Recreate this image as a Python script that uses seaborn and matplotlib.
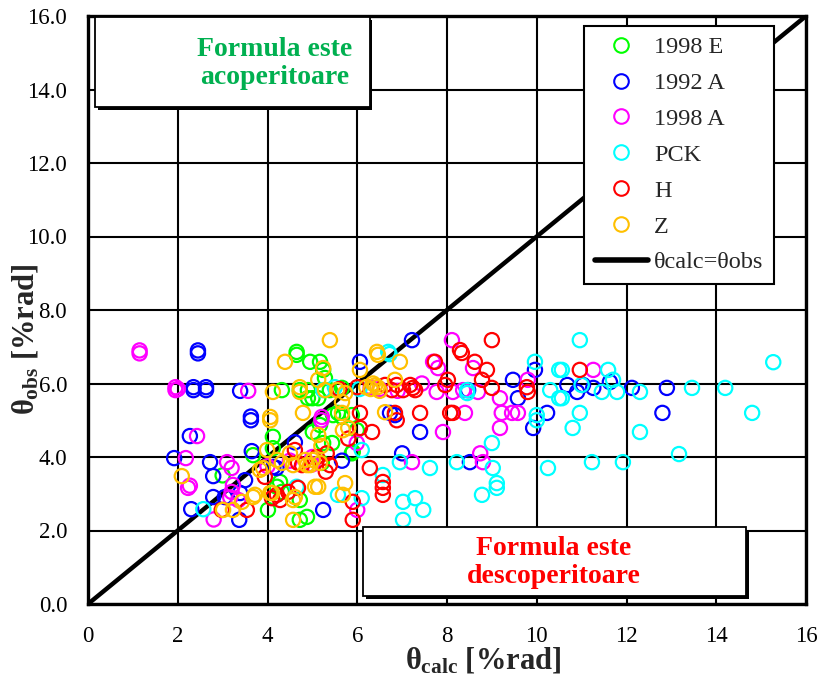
import numpy as np
import pandas as pd
import matplotlib
matplotlib.use("Agg")
import matplotlib.pyplot as plt
import matplotlib.patheffects as pe
from matplotlib.patches import Rectangle
from matplotlib.lines import Line2D
import seaborn as sns

# ---------------- data ----------------
series_names = ["1998 E", "1992 A", "1998 A", "PCK", "H", "Z"]
series_colors = ["#00FF00", "#0000FF", "#FF00FF", "#00FFFF", "#FF0000", "#FFC000"]

e1998_x = [4.65, 4.65, 4.95, 5.17, 5.24, 5.28, 4.32, 4.72, 4.90, 5.39, 5.66, 4.90, 5.13, 5.00,
           5.66, 5.46, 5.88, 5.57, 5.17, 5.01, 5.99, 4.12, 4.12, 3.68, 5.44, 5.24, 5.90, 5.88,
           5.21, 4.28, 4.21, 4.32, 4.01, 4.72, 4.72, 4.88, 3.00]
e1998_y = [6.86, 6.78, 6.59, 6.59, 6.37, 6.15, 5.82, 5.82, 5.82, 5.82, 5.88, 5.60, 5.60, 5.60,
           5.09, 5.14, 5.14, 5.20, 4.87, 4.68, 4.73, 4.55, 4.24, 4.05, 4.38, 4.38, 4.14, 4.10,
           3.84, 3.32, 3.19, 3.05, 2.56, 2.83, 2.29, 2.37, 3.50]

a1992_x = [2.45, 2.45, 2.35, 2.35, 2.63, 2.63, 3.39, 3.63, 3.63, 2.27, 1.92, 2.72, 2.79, 3.65,
           2.30, 2.79, 3.37, 3.05, 3.39, 3.50, 4.13, 4.20, 6.06, 7.22, 6.73, 6.84, 7.40, 7.00,
           8.51, 9.47, 9.58, 9.96, 9.92, 10.23, 10.68, 10.90, 11.03, 11.26, 11.63, 12.12, 12.90,
           12.80, 5.24, 5.66, 8.47, 4.61]
a1992_y = [6.90, 6.82, 5.90, 5.82, 5.90, 5.82, 5.80, 5.10, 5.00, 4.57, 3.97, 3.86, 3.48, 4.16,
           2.58, 2.91, 2.29, 2.91, 3.02, 3.37, 3.73, 3.70, 6.59, 7.18, 5.20, 5.14, 4.68, 4.10,
           3.86, 6.10, 5.60, 6.37, 4.79, 5.20, 5.96, 5.77, 5.96, 5.88, 6.04, 5.88, 5.88,
           5.20, 2.56, 3.90, 5.82, 4.40]

a1998_x = [1.15, 1.15, 1.95, 1.95, 2.00, 3.57, 2.43, 2.18, 2.23, 2.27, 3.10, 3.20, 3.23, 3.20,
           3.35, 2.80, 3.17, 5.21, 5.20, 8.11, 7.69, 7.80, 8.58, 7.44, 7.77, 8.13, 8.36, 8.69,
           9.18, 9.22, 9.45, 9.58, 8.40, 9.18, 7.91, 8.74, 8.80, 9.80, 7.22, 5.99, 6.00, 6.30,
           6.50, 6.90, 11.26, 4.00, 4.50, 5.00, 5.00]
a1998_y = [6.90, 6.82, 5.90, 5.82, 5.85, 5.80, 4.57, 3.97, 3.16, 3.22, 3.86, 3.70, 3.24, 3.05,
           2.83, 2.30, 2.90, 5.09, 5.00, 7.18, 6.59, 6.42, 6.42, 6.00, 5.77, 5.77, 5.82, 5.77,
           5.60, 5.20, 5.20, 5.20, 5.20, 4.79, 4.68, 4.10, 3.86, 6.10, 3.86, 4.38, 2.56, 5.90,
           5.85, 5.80, 6.37, 3.75, 3.90, 4.00, 3.80]

pck_x = [10.96, 10.56, 11.59, 11.70, 11.45, 11.79, 11.00, 12.30, 13.46, 14.20, 15.27, 14.80,
         10.96, 10.80, 12.30, 13.17, 11.23, 11.92, 10.56, 6.69, 6.72, 8.45, 8.45, 9.96, 10.50,
         10.30, 10.50, 10.00, 10.00, 9.00, 8.22, 7.62, 9.02, 9.11, 9.11, 8.78, 10.25, 6.95,
         6.57, 7.02, 7.29, 7.47, 7.02, 6.10, 5.57, 6.10, 2.57, 5.24, 4.65, 6.05, 5.50]
pck_y = [7.18, 6.37, 6.37, 6.10, 5.77, 5.77, 5.96, 5.77, 5.88, 5.88, 6.58, 5.20,
         5.20, 4.79, 4.68, 4.08, 3.86, 3.86, 5.60, 6.86, 6.80, 5.82, 5.74, 6.59, 6.37,
         5.82, 5.60, 5.14, 5.00, 4.38, 3.86, 3.70, 3.70, 3.29, 3.16, 2.97, 3.70, 3.86,
         3.51, 2.78, 2.88, 2.56, 2.29, 2.88, 2.97, 4.19, 2.58, 5.82, 3.19, 5.85, 5.90]

h_x = [9.00, 8.29, 8.33, 7.73, 8.62, 8.89, 8.78, 8.02, 7.96, 9.00, 9.78, 9.80, 8.07, 8.13,
       7.40, 10.96, 6.62, 6.77, 6.88, 7.02, 7.18, 7.29, 7.24, 6.84, 6.88, 6.33, 6.06, 6.28,
       6.57, 6.57, 6.57, 5.90, 5.90, 5.32, 5.39, 6.06, 4.61, 4.68, 4.21, 4.10, 3.54, 2.98,
       4.28, 4.46, 4.68, 3.94, 4.77, 5.60, 6.00, 5.10, 5.30, 5.80]
h_y = [7.18, 6.91, 6.83, 6.59, 6.59, 6.37, 6.10, 6.10, 5.96, 5.88, 5.90, 5.77, 5.20, 5.20,
       5.20, 6.37, 5.96, 5.82, 5.96, 5.82, 5.96, 5.82, 5.88, 5.20, 5.00, 4.68, 4.79, 3.70,
       3.32, 3.16, 2.97, 2.78, 2.29, 4.10, 3.78, 5.20, 4.19, 3.84, 2.97, 2.88, 2.56, 2.56,
       2.83, 3.05, 3.16, 3.46, 3.78, 5.85, 5.90, 4.00, 3.60, 4.50]

z_x = [5.39, 4.39, 4.12, 4.72, 4.06, 4.06, 4.79, 5.13, 5.24, 2.09, 3.99, 3.90, 4.21, 4.32,
       4.57, 4.88, 5.01, 5.17, 5.13, 3.72, 4.06, 4.57, 4.57, 3.01, 3.23, 3.43, 3.68, 3.83,
       4.10, 4.61, 5.28, 5.55, 5.73, 5.66, 6.06, 6.44, 6.46, 6.95, 6.84, 6.20, 6.30, 6.40,
       6.50, 6.35, 6.45, 6.62, 5.66, 5.13, 5.68, 5.80, 5.06, 5.73, 5.68, 4.84, 4.95, 4.72,
       4.50, 5.20]
z_y = [7.18, 6.59, 5.77, 5.77, 5.09, 5.00, 5.20, 6.10, 6.42, 3.48, 4.19, 3.70, 3.92, 3.84,
       3.78, 3.78, 3.92, 3.84, 3.19, 2.97, 3.02, 2.83, 2.29, 2.56, 2.56, 2.78, 2.91, 3.65,
       3.02, 2.91, 5.82, 5.82, 5.74, 5.50, 6.37, 6.86, 6.78, 6.59, 6.10, 5.90, 5.85, 5.95,
       5.80, 6.00, 5.90, 5.22, 5.20, 4.60, 4.73, 4.79, 3.19, 3.29, 2.97, 3.92, 3.78, 5.90,
       4.10, 4.30]

series_x = [e1998_x, a1992_x, a1998_x, pck_x, h_x, z_x]
series_y = [e1998_y, a1992_y, a1998_y, pck_y, h_y, z_y]

x_ticks = list(range(0, 17, 2))
y_ticks = [0, 2, 4, 6, 8, 10, 12, 14, 16]
line_label = "θcalc=θobs"
top_note = "Formula este\nacoperitoare"
bottom_note = "Formula este\ndescoperitoare"

# ---------------- style ----------------
sns.set_style("white")
plt.rcParams["font.family"] = ["Liberation Serif", "DejaVu Serif"]
plt.rcParams["mathtext.fontset"] = "custom"
plt.rcParams["mathtext.rm"] = "Liberation Serif:bold"
plt.rcParams["mathtext.it"] = "Liberation Serif:bold"
plt.rcParams["mathtext.bf"] = "Liberation Serif:bold"

fig = plt.figure(figsize=(8.21, 6.81), dpi=100)
ax = fig.add_axes([88 / 821, 77 / 681, 718 / 821, 588 / 681])

# diagonal reference line
diag = pd.DataFrame({"x": [0, 16], "y": [0, 16]})
sns.lineplot(data=diag, x="x", y="y", ax=ax, color="black", linewidth=3.2, zorder=3,
             legend=False)

for name, col, xs, ys in zip(series_names, series_colors, series_x, series_y):
    df = pd.DataFrame({"x": xs, "y": ys})
    sns.scatterplot(data=df, x="x", y="y", ax=ax, s=105, marker="o",
                    facecolor="none", edgecolor=col, linewidth=1.6, zorder=4,
                    legend=False)
    coll = ax.collections[-1]
    coll.set_facecolor("none")
    coll.set_edgecolor(col)

ax.set_xlim(0, 16)
ax.set_ylim(0, 16)
ax.set_xticks(x_ticks)
ax.set_yticks(y_ticks)
ax.set_xticklabels([str(t) for t in x_ticks])
ax.set_yticklabels([f"{t:.1f}" for t in y_ticks])
ax.grid(True, color="black", linewidth=1.5, zorder=1)
ax.set_axisbelow(True)
for sp in ax.spines.values():
    sp.set_visible(True)
    sp.set_color("black")
    sp.set_linewidth(2.4)
ax.tick_params(axis="both", direction="in", length=5, width=1.5, labelsize=16.5,
               colors="black")
ax.tick_params(axis="x", pad=15.5)
ax.tick_params(axis="y", pad=15)

ax.set_xlabel(r"$\theta_{\mathrm{calc}}$ [%rad]", fontsize=22, fontweight="bold")
ax.set_ylabel(r"$\theta_{\mathrm{obs}}$ [%rad]", fontsize=22, fontweight="bold")
ax.xaxis.set_label_coords(0.55, -0.07)
ax.yaxis.set_label_coords(-0.066, 0.45)

# annotation boxes
shadow = [pe.SimplePatchShadow(offset=(2, -2), shadow_rgbFace="black", alpha=1.0), pe.Normal()]
r1 = Rectangle((0.156, 13.52), 6.12, 2.45, facecolor="white", edgecolor="black",
               linewidth=1.3, zorder=5, path_effects=shadow)
r2 = Rectangle((6.13, 0.22), 8.53, 1.88, facecolor="white", edgecolor="black",
               linewidth=1.3, zorder=5, path_effects=shadow)
ax.add_patch(r1)
ax.add_patch(r2)
ax.text(4.15, 14.71, top_note, color="#00B050", fontsize=20, fontweight="bold",
        ha="center", va="center", zorder=6, linespacing=1.15)
ax.text(10.38, 1.12, bottom_note, color="#FF0000", fontsize=20, fontweight="bold",
        ha="center", va="center", zorder=6, linespacing=1.15)

# legend
handles = [Line2D([], [], linestyle="none", marker="o", markersize=10.5,
                  markerfacecolor="none", markeredgecolor=c, markeredgewidth=1.5)
           for c in series_colors]
handles.append(Line2D([], [], color="black", linewidth=4))
labels = series_names + [line_label]
leg = ax.legend(handles, labels, loc="upper right", bbox_to_anchor=(0.955, 0.983),
                borderaxespad=0, fontsize=17.5, frameon=True, fancybox=False,
                edgecolor="black", framealpha=1, handlelength=2.2, handletextpad=0.25,
                labelspacing=0.57, borderpad=0.42)
leg.get_frame().set_linewidth(1.5)
leg.set_zorder(7)

fig.savefig("out.png", dpi=100)
